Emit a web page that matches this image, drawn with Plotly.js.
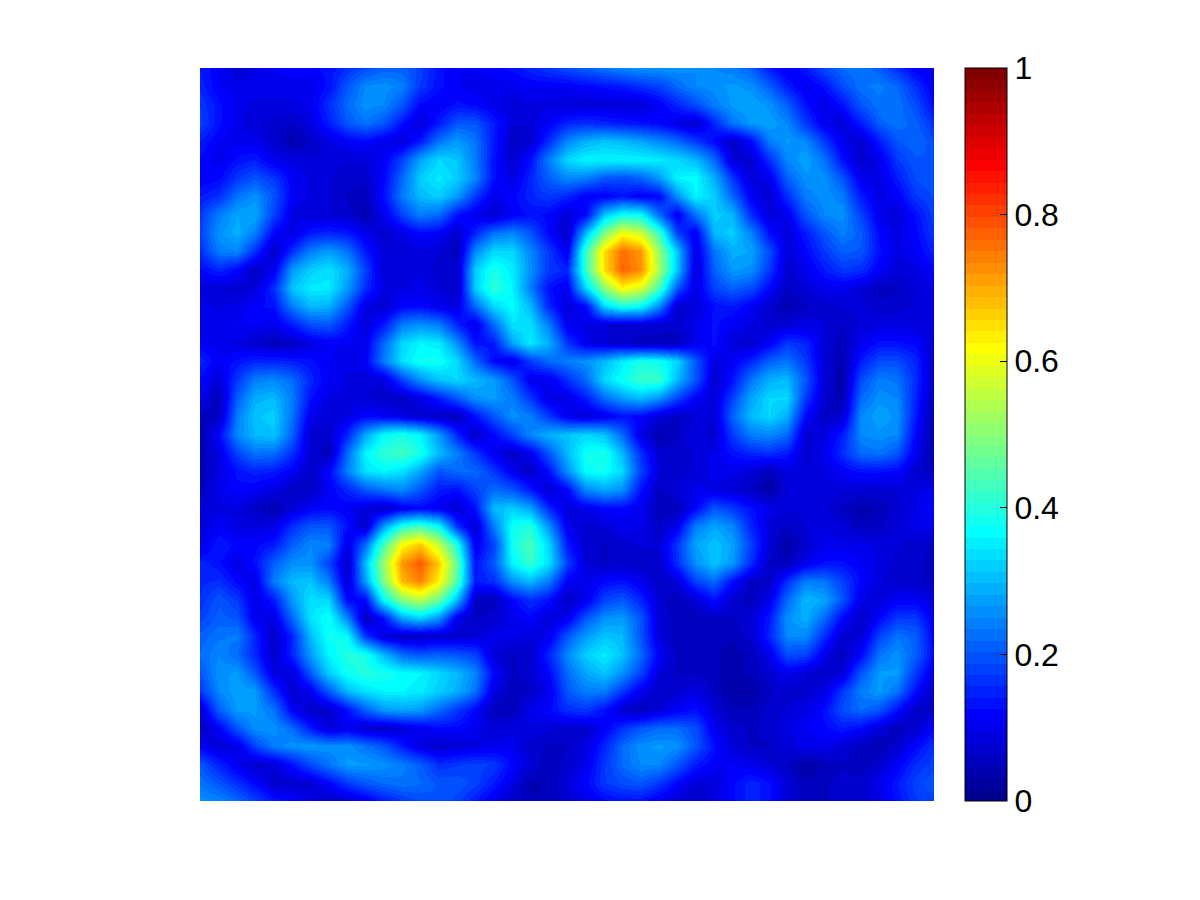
<!DOCTYPE html>
<html><head><meta charset="utf-8">
<script src="https://cdn.plot.ly/plotly-3.0.1.min.js"></script>
<style>html,body{margin:0;padding:0;background:#fff}#chart{width:1200px;height:900px}</style>
</head><body><div id="chart"></div>
<script>
// Field values, in hundredths, top row first
const row00=[14,11,7,9,11,12,12,13,16,19,21,21,18,13,11,11,12,13,15,17,19,21,23,25,26,26,26,25,25,24,21,14,10,14,19,22,23,21,16,11,10];
const row01=[15,11,10,10,10,10,10,13,20,25,26,24,17,13,11,10,10,10,11,11,11,12,13,14,16,18,22,25,26,27,26,21,14,10,13,19,23,24,22,16,10];
const row02=[17,13,10,9,9,9,10,16,22,26,25,20,12,11,13,12,10,8,9,9,8,8,8,8,8,11,15,19,24,27,28,26,21,13,9,13,20,23,23,19,12];
const row03=[18,13,10,8,7,6,9,14,20,23,20,13,8,14,20,20,14,8,8,11,15,16,15,14,13,12,9,7,15,23,27,28,25,17,10,8,14,21,23,21,16];
const row04=[14,11,10,10,7,4,6,9,11,12,10,8,14,23,27,23,14,6,7,16,25,29,31,30,28,25,22,17,12,6,12,24,27,25,17,10,7,14,20,22,19];
const row05=[12,10,13,14,10,9,8,8,8,8,11,18,28,33,31,24,13,7,13,24,33,36,36,36,36,35,33,30,22,8,7,16,25,28,23,13,7,10,17,20,20];
const row06=[11,12,17,20,17,11,9,8,7,7,12,22,32,35,32,25,13,9,15,21,25,24,20,19,21,27,36,37,29,17,8,10,21,26,26,20,10,9,14,19,20];
const row07=[14,16,23,26,20,11,9,8,6,5,13,24,30,32,27,17,10,12,15,17,15,11,11,13,11,12,26,36,32,22,11,7,16,24,26,24,14,9,11,17,19];
const row08=[17,24,28,28,18,9,8,8,7,4,10,18,24,22,13,10,7,11,13,12,8,12,31,38,37,22,10,23,32,30,16,8,10,20,25,26,18,10,8,13,18];
const row09=[18,26,29,24,12,9,14,15,14,10,7,9,12,11,7,15,23,25,20,12,6,30,49,61,57,42,18,10,30,32,25,13,8,14,20,24,21,12,9,12,17];
const row10=[16,24,25,16,6,16,24,27,23,14,8,8,9,8,5,25,33,33,25,17,10,42,65,76,72,51,31,9,23,29,28,19,8,12,17,21,20,13,9,11,15];
const row11=[12,15,12,6,10,27,32,34,29,18,8,8,9,7,7,32,39,35,26,17,15,42,65,77,73,53,31,8,21,27,26,17,7,10,14,17,16,11,8,9,12];
const row12=[8,8,7,8,16,31,35,35,27,16,9,9,10,8,6,32,41,36,24,13,10,33,50,62,58,43,20,9,18,21,19,12,6,8,10,10,8,5,6,8,9];
const row13=[10,9,10,12,13,24,30,29,20,9,7,12,12,10,9,22,33,37,30,15,8,12,33,39,37,25,7,8,13,14,11,7,4,6,7,8,8,7,7,8,9];
const row14=[10,10,11,11,10,14,19,20,14,8,14,24,26,24,15,9,22,34,34,24,10,9,8,7,8,7,7,10,13,11,9,7,8,9,8,6,8,9,9,9,8];
const row15=[11,10,9,7,5,6,9,11,11,10,22,33,36,35,26,13,14,28,35,29,17,10,8,7,5,5,5,10,13,8,7,11,17,15,8,5,10,13,13,12,7];
const row16=[15,11,13,15,15,14,13,11,10,11,24,34,38,38,33,22,12,9,17,22,24,26,30,35,39,38,33,20,9,11,15,21,23,17,8,4,14,19,19,15,5];
const row17=[12,8,17,24,25,22,15,11,9,8,8,18,26,31,33,30,27,20,10,10,16,22,33,38,42,42,30,20,7,13,23,29,30,20,8,3,19,24,23,16,5];
const row18=[10,5,21,29,30,24,13,9,9,8,7,6,9,14,20,26,27,24,17,9,9,14,22,27,30,26,18,11,8,18,28,33,33,17,7,4,22,26,25,15,4];
const row19=[5,6,24,31,32,23,10,8,9,12,11,9,7,6,5,13,20,26,24,17,10,8,10,13,12,8,6,8,8,21,30,33,29,12,6,7,25,28,26,14,3];
const row20=[4,12,25,30,31,21,7,7,15,28,37,39,36,27,15,6,12,18,25,29,31,33,31,22,9,4,6,9,7,17,24,25,22,7,9,14,25,26,25,12,3];
const row21=[4,9,18,23,22,16,8,5,22,36,41,43,39,30,24,17,10,6,10,20,30,38,39,30,16,7,7,8,10,13,15,16,14,7,10,16,22,23,20,10,3];
const row22=[4,9,13,15,14,11,6,12,24,34,36,34,28,20,22,22,17,10,6,13,26,37,38,33,18,8,7,8,10,10,8,5,9,8,9,11,13,13,12,7,5];
const row23=[5,10,12,11,9,6,6,11,15,20,23,25,20,14,13,18,22,20,14,7,12,25,28,26,13,6,8,10,9,8,6,3,8,9,9,8,8,7,8,9,10];
const row24=[8,9,9,6,4,8,11,12,11,8,6,10,12,10,7,13,30,32,28,15,8,10,12,12,10,5,5,12,20,17,13,10,8,8,8,6,4,5,7,10,12];
const row25=[8,11,9,9,9,16,20,20,13,6,27,40,43,37,16,7,24,38,40,26,10,7,8,10,10,6,10,24,28,25,15,8,6,8,9,8,5,6,8,10,10];
const row26=[9,14,12,12,14,21,25,24,9,22,44,62,67,56,39,10,18,38,44,33,14,7,6,7,8,8,17,28,31,28,18,8,3,7,10,10,10,9,8,7,6];
const row27=[15,13,9,13,21,26,26,18,6,30,52,72,78,67,46,13,20,36,42,34,18,8,6,7,6,7,16,26,31,27,16,6,5,10,13,13,11,9,7,7,5];
const row28=[15,16,12,9,24,30,31,24,7,27,49,69,74,63,44,14,16,26,30,24,11,10,12,13,10,6,8,18,22,13,6,6,16,24,23,18,12,8,7,7,5];
const row29=[16,20,17,9,14,27,34,33,12,12,37,50,55,47,30,6,5,12,16,13,6,10,18,20,15,7,5,8,13,7,5,10,22,30,28,20,10,8,11,11,8];
const row30=[18,21,20,10,9,22,34,38,25,5,13,28,32,26,9,6,7,10,12,8,10,20,26,27,20,8,5,5,6,6,8,14,26,29,22,12,6,12,17,17,10];
const row31=[21,23,24,15,6,15,30,38,37,17,8,6,6,7,7,8,10,10,8,10,20,27,31,30,20,8,5,5,5,5,7,15,25,25,16,7,8,18,23,21,11];
const row32=[22,25,22,15,7,15,27,36,40,39,30,22,20,21,20,18,8,6,7,15,25,32,35,31,22,11,6,5,5,4,5,10,19,18,10,5,12,23,26,21,12];
const row33=[20,26,27,20,9,8,20,32,38,40,39,37,36,33,30,25,12,6,7,12,22,28,31,26,18,8,6,6,5,4,5,7,10,8,6,8,20,27,27,17,8];
const row34=[17,25,28,27,16,7,10,20,30,34,36,36,35,32,29,23,9,5,6,10,20,24,24,17,10,6,7,9,6,3,3,6,7,7,9,17,24,27,23,13,5];
const row35=[7,21,27,27,23,11,6,7,13,21,27,28,27,22,17,12,5,5,10,12,16,17,13,7,5,8,11,13,8,5,5,7,8,9,13,19,22,20,13,6,6];
const row36=[5,11,20,26,26,22,14,8,10,7,6,8,10,12,12,10,8,9,9,8,7,7,11,16,20,22,22,19,10,7,6,7,9,11,12,14,12,8,5,7,12];
const row37=[11,8,9,18,24,26,27,26,26,23,20,14,9,7,8,9,10,10,7,6,6,9,15,22,26,27,26,20,13,8,6,6,8,10,10,8,6,4,7,12,17];
const row38=[20,15,10,7,8,13,19,23,27,27,26,24,21,16,17,18,17,12,8,5,7,10,17,22,25,25,20,14,11,11,10,8,6,3,5,6,5,7,11,16,18];
const row39=[23,20,16,12,7,7,7,12,17,20,22,23,22,20,20,18,14,9,4,5,8,12,17,19,20,17,12,8,8,12,15,13,8,5,6,7,7,10,14,18,20];
const row40=[26,25,22,18,14,12,9,6,7,10,14,17,19,20,18,14,10,6,5,5,7,9,12,13,13,10,7,6,9,12,15,13,8,5,6,7,7,9,13,17,18];
const rows=[row00,row01,row02,row03,row04,row05,row06,row07,row08,row09,row10,row11,row12,row13,row14,row15,row16,row17,row18,row19,
  row20,row21,row22,row23,row24,row25,row26,row27,row28,row29,row30,row31,row32,row33,row34,row35,row36,row37,row38,row39,row40];
const tickValues=[0,0.2,0.4,0.6,0.8,1];
const tickLabels=['0','0.2','0.4','0.6','0.8','1'];

// 64-step jet colour map, as stepped stops
const LEVELS=64;
const clamp=v=>Math.max(0,Math.min(1,v));
const jetColor=i=>{
  const v=(i+1)/LEVELS;
  const ch=c=>Math.round(255*clamp(1.5-Math.abs(4*v-c)));
  return `rgb(${ch(3)},${ch(2)},${ch(1)})`;
};
const jetSteps=[];
for(let i=0;i<LEVELS;i++){
  jetSteps.push([i/LEVELS,jetColor(i)]);
  jetSteps.push([(i+1)/LEVELS,jetColor(i)]);
}

const z=rows.map(r=>r.map(v=>v/100));
const lastCol=rows[0].length-1, lastRow=rows.length-1;
const trace={
  type:'heatmap',z:z,zmin:0,zmax:1,zsmooth:'best',colorscale:jetSteps,hoverinfo:'skip',
  colorbar:{
    x:(965-200)/734,xanchor:'left',xpad:0,
    y:0,yanchor:'bottom',ypad:0,len:1,lenmode:'fraction',
    thickness:42,thicknessmode:'pixels',
    outlinecolor:'#000',outlinewidth:1,borderwidth:0,
    tickmode:'array',tickvals:tickValues,ticktext:tickLabels,
    ticks:'inside',ticklen:7,tickwidth:1,tickcolor:'#000',
    tickfont:{family:'Liberation Sans, Arial, sans-serif',size:32,color:'#000'}
  }
};
// Left-hand colour bar tick marks (the library only draws them on one side)
const barLeft=(965-200)/734, tickW=7/734;
const leftTicks=tickValues.slice(1,-1).map(t=>({
  type:'line',xref:'paper',yref:'paper',x0:barLeft,x1:barLeft+tickW,y0:t,y1:t,
  line:{color:'#000',width:1}
}));
const layout={
  width:1200,height:900,paper_bgcolor:'#fff',plot_bgcolor:'#fff',
  margin:{l:200,r:266,t:68,b:99,pad:0},
  xaxis:{visible:false,range:[0,lastCol],fixedrange:true},
  yaxis:{visible:false,range:[lastRow,0],fixedrange:true},
  shapes:leftTicks,showlegend:false
};
Plotly.newPlot('chart',[trace],layout,{displayModeBar:false,staticPlot:true});
</script></body></html>
